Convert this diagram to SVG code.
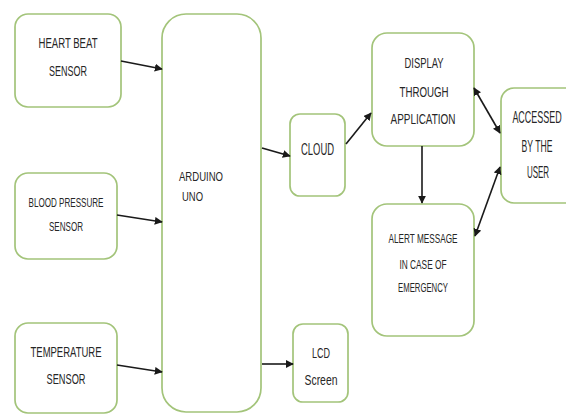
<svg xmlns="http://www.w3.org/2000/svg" width="566" height="417" viewBox="0 0 566 417">
<defs>
<style>
.box{fill:#fff;stroke:#a3c47a;stroke-width:1.7}
.t{font-family:"Liberation Sans",Arial,sans-serif;fill:#262626;text-anchor:middle;dominant-baseline:central}
.l{text-anchor:start}
.c{stroke:#1a1a1a;stroke-width:1.6;fill:none}
</style>
<marker id="ah" viewBox="0 0 10 10" refX="9" refY="5" markerWidth="8" markerHeight="8" markerUnits="userSpaceOnUse" orient="auto-start-reverse">
<path d="M0,0 L10,5 L0,10 z" fill="#1a1a1a"/>
</marker>
</defs>
<rect width="566" height="417" fill="#fff"/>
<g id="heart">
<rect class="box" x="15" y="14" width="106" height="93" rx="13"/>
<text class="t" x="68" y="42" font-size="15" textLength="59" lengthAdjust="spacingAndGlyphs">HEART BEAT</text>
<text class="t" x="68" y="70" font-size="15" textLength="38" lengthAdjust="spacingAndGlyphs">SENSOR</text>
</g>
<g id="blood">
<rect class="box" x="15" y="173" width="102" height="86" rx="13"/>
<text class="t" x="66" y="202" font-size="13" textLength="75" lengthAdjust="spacingAndGlyphs">BLOOD PRESSURE</text>
<text class="t" x="66" y="226" font-size="13" textLength="34" lengthAdjust="spacingAndGlyphs">SENSOR</text>
</g>
<g id="temperature">
<rect class="box" x="15" y="323" width="102" height="90" rx="13"/>
<text class="t" x="66" y="351" font-size="15" textLength="71" lengthAdjust="spacingAndGlyphs">TEMPERATURE</text>
<text class="t" x="66" y="378" font-size="15" textLength="39" lengthAdjust="spacingAndGlyphs">SENSOR</text>
</g>
<g id="arduino">
<rect class="box" x="162" y="14" width="99" height="398" rx="24"/>
<text class="t l" x="179" y="176" font-size="13" textLength="44" lengthAdjust="spacingAndGlyphs">ARDUINO</text>
<text class="t l" x="182" y="196" font-size="13" textLength="21" lengthAdjust="spacingAndGlyphs">UNO</text>
</g>
<g id="cloud">
<rect class="box" x="290" y="114" width="55" height="82" rx="10"/>
<text class="t" x="317.5" y="149" font-size="16" textLength="33" lengthAdjust="spacingAndGlyphs">CLOUD</text>
</g>
<g id="lcd">
<rect class="box" x="293" y="324" width="55" height="78" rx="10"/>
<text class="t" x="321" y="352" font-size="15" textLength="18" lengthAdjust="spacingAndGlyphs">LCD</text>
<text class="t" x="321" y="379" font-size="15" textLength="33" lengthAdjust="spacingAndGlyphs">Screen</text>
</g>
<g id="display">
<rect class="box" x="372" y="33" width="102" height="113" rx="15"/>
<text class="t" x="424" y="62" font-size="15" textLength="39" lengthAdjust="spacingAndGlyphs">DISPLAY</text>
<text class="t" x="424" y="91" font-size="15" textLength="49" lengthAdjust="spacingAndGlyphs">THROUGH</text>
<text class="t" x="423" y="118" font-size="15" textLength="65" lengthAdjust="spacingAndGlyphs">APPLICATION</text>
</g>
<g id="alert">
<rect class="box" x="372" y="204" width="102" height="132" rx="15"/>
<text class="t" x="423" y="238" font-size="13.5" textLength="69" lengthAdjust="spacingAndGlyphs">ALERT MESSAGE</text>
<text class="t" x="423" y="264" font-size="13.5" textLength="47" lengthAdjust="spacingAndGlyphs">IN CASE OF</text>
<text class="t" x="423" y="287" font-size="13.5" textLength="50" lengthAdjust="spacingAndGlyphs">EMERGENCY</text>
</g>
<g id="accessed">
<rect class="box" x="501" y="88" width="80" height="115" rx="13"/>
<text class="t" font-size="16" transform="translate(537,117) scale(0.56,1)">ACCESSED</text>
<text class="t" font-size="16" transform="translate(537,146) scale(0.54,1)">BY THE</text>
<text class="t" font-size="16" transform="translate(538,173) scale(0.5,1)">USER</text>
</g>
<g id="connectors">
<line class="c" x1="121" y1="61" x2="162" y2="69" marker-end="url(#ah)"/>
<line class="c" x1="117" y1="215" x2="162" y2="222" marker-end="url(#ah)"/>
<line class="c" x1="117" y1="365" x2="162" y2="372" marker-end="url(#ah)"/>
<line class="c" x1="262" y1="148" x2="290" y2="156" marker-end="url(#ah)"/>
<line class="c" x1="262" y1="364" x2="293" y2="364" marker-end="url(#ah)"/>
<line class="c" x1="346" y1="144" x2="371" y2="113" marker-end="url(#ah)"/>
<line class="c" x1="422" y1="146" x2="422" y2="203" marker-end="url(#ah)"/>
<line class="c" x1="474" y1="88" x2="500" y2="133" marker-start="url(#ah)" marker-end="url(#ah)"/>
<line class="c" x1="475" y1="236" x2="500" y2="167" marker-start="url(#ah)" marker-end="url(#ah)"/>
</g>
</svg>
